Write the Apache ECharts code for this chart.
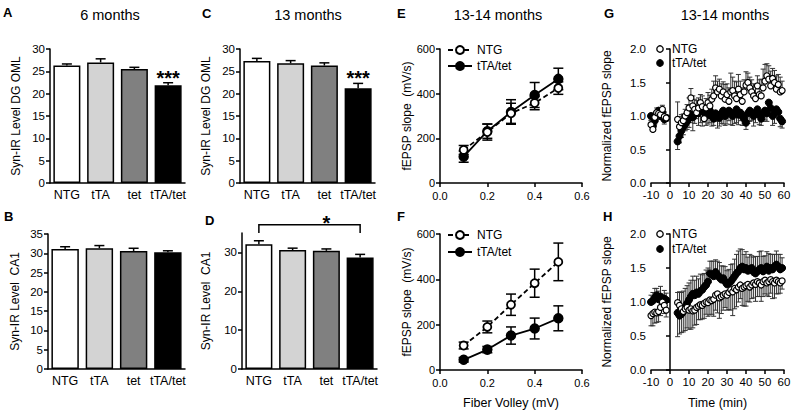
<!DOCTYPE html>
<html><head><meta charset="utf-8">
<script src="https://cdn.jsdelivr.net/npm/echarts@6/dist/echarts.min.js"></script>
<style>html,body{margin:0;padding:0;background:#fff}#c{width:800px;height:416px}</style>
</head><body><div id="c"></div>
<script>
// ---------- DATA ----------
const groups = ['NTG', 'tTA', 'tet', 'tTA/tet'];
const dg6Mean = [26.3, 27.0, 25.5, 21.9];
const dg6Sem = [0.35, 0.8, 0.4, 0.55];
const ca6Mean = [31.1, 31.3, 30.6, 30.25];
const ca6Sem = [0.6, 0.7, 0.7, 0.4];
const dg13Mean = [27.3, 26.8, 26.3, 21.2];
const dg13Sem = [0.6, 0.6, 0.6, 1.1];
const ca13Mean = [32.1, 30.6, 30.4, 28.7];
const ca13Sem = [0.9, 0.5, 0.5, 0.8];
const sigA = '***', sigC = '***', sigD = '*';
const seriesNames = ['NTG', 'tTA/tet'];

const fiberVolley = [0.1, 0.2, 0.3, 0.4, 0.5];
const ioE_NTG = [148, 228, 312, 358, 425];
const ioE_NTGErr = [20, 36, 45, 30, 28];
const ioE_TG = [118, 232, 318, 394, 466];
const ioE_TGErr = [25, 32, 55, 56, 48];
const ioF_NTG = [108, 190, 288, 383, 477];
const ioF_NTGErr = [15, 26, 47, 62, 83];
const ioF_TG = [45, 90, 152, 183, 228];
const ioF_TGErr = [10, 14, 38, 46, 55];

const timeMin = [-10,-9,-8,-7,-6,-5,-4,-3,-2,4,5,6,7,8,9,10,11,12,13,14,15,16,17,18,19,20,21,22,23,24,25,26,27,28,29,30,31,32,33,34,35,36,37,38,39,40,41,42,43,44,45,46,47,48,49,50,51,52,53,54,55,56,57,58,59];
const ltpG_NTG = [0.87,0.80,0.98,1.05,1.04,1.02,1.10,0.99,0.97, 0.95,0.84,0.90,0.93,1.00,1.05,1.12,1.27,1.15,1.10, 1.05,1.12,1.20,1.14,0.96,1.12,1.20,1.15,1.25,1.30, 1.42,1.36,1.40,1.30,1.36,1.25,1.32,1.22,1.36,1.38, 1.30,1.26,1.40,1.32,1.22,1.36,1.46,1.50,1.42,1.36, 1.30,1.26,1.45,1.32,1.30,1.42,1.52,1.60,1.55,1.45, 1.56,1.50,1.40,1.47,1.36,1.38];
const ltpG_NTGErr = [0.06,0.05,0.06,0.07,0.06,0.05,0.06,0.07,0.05, 0.26,0.15,0.12,0.10,0.10,0.12,0.15,0.14,0.15,0.15, 0.18,0.15,0.12,0.16,0.20,0.14,0.15,0.16,0.15,0.22, 0.18,0.16,0.15,0.18,0.15,0.22,0.16,0.20,0.28,0.20, 0.22,0.25,0.22,0.20,0.20,0.18,0.20,0.14,0.16,0.18, 0.18,0.20,0.15,0.22,0.25,0.28,0.25,0.18,0.20,0.22, 0.15,0.18,0.20,0.15,0.22,0.14];
const ltpG_TG = [1.00,0.85,0.93,1.04,1.08,1.00,1.05,0.95,0.97, 0.62,0.70,0.78,0.84,0.88,0.92,0.97,1.02,0.98,1.04, 1.08,1.04,1.12,1.10,1.06,1.00,1.04,1.08,1.00,0.96, 1.04,1.00,0.97,1.04,1.08,1.00,1.04,1.08,1.05,1.00, 1.04,1.10,1.02,1.05,1.00,0.96,0.90,1.04,1.08,1.05, 1.00,1.04,1.10,1.02,0.96,1.04,1.08,1.04,1.20,1.12, 1.00,1.04,1.10,1.06,0.96,0.92];
const ltpG_TGErr = [0.06,0.08,0.05,0.06,0.08,0.05,0.06,0.07,0.05, 0.12,0.10,0.10,0.12,0.10,0.12,0.14,0.12,0.20,0.15, 0.12,0.18,0.22,0.25,0.15,0.14,0.16,0.18,0.15,0.10, 0.12,0.18,0.12,0.15,0.20,0.14,0.16,0.15,0.18,0.14, 0.15,0.20,0.15,0.12,0.14,0.10,0.10,0.15,0.16,0.12, 0.15,0.14,0.12,0.15,0.10,0.12,0.14,0.12,0.10,0.12, 0.14,0.15,0.12,0.10,0.12,0.10];
const ltpH_NTG = [0.80,0.83,0.85,0.84,0.86,0.92,1.00,0.95,0.88, 0.99,0.95,0.90,0.86,0.90,0.92,0.88,0.90,0.87,0.88, 0.92,0.94,0.96,0.95,0.98,1.00,0.99,1.03,1.02,1.04, 1.10,1.12,1.06,1.08,1.10,1.12,1.10,1.14,1.18,1.15, 1.20,1.18,1.22,1.25,1.20,1.22,1.24,1.26,1.22,1.25, 1.28,1.26,1.30,1.28,1.25,1.30,1.32,1.28,1.30,1.33, 1.30,1.28,1.32,1.30,1.28,1.31];
const ltpH_NTGErr = [0.15,0.18,0.16,0.14,0.15,0.12,0.10,0.12,0.10, 0.50,0.42,0.35,0.30,0.32,0.30,0.28,0.30,0.25,0.22, 0.25,0.20,0.22,0.20,0.22,0.18,0.20,0.22,0.20,0.25, 0.22,0.28,0.30,0.25,0.22,0.20,0.22,0.25,0.30,0.35, 0.30,0.25,0.22,0.20,0.25,0.28,0.30,0.25,0.22,0.20, 0.22,0.25,0.22,0.20,0.24,0.22,0.20,0.18,0.22,0.20, 0.25,0.22,0.20,0.18,0.15,0.12];
const ltpH_TG = [1.00,1.02,1.06,1.10,1.04,1.08,1.00,1.05,1.03, 0.84,0.80,0.82,0.86,0.92,0.98,1.03,1.08,1.12,1.10, 1.14,1.12,1.16,1.18,1.22,1.25,1.30,1.42,1.40,1.38, 1.44,1.40,1.36,1.33,1.35,1.30,1.26,1.28,1.30,1.34, 1.38,1.42,1.45,1.50,1.52,1.48,1.50,1.46,1.48,1.50, 1.44,1.42,1.45,1.48,1.50,1.45,1.48,1.52,1.46,1.50, 1.48,1.52,1.55,1.52,1.48,1.50];
const ltpH_TGErr = [0.10,0.12,0.14,0.10,0.12,0.15,0.10,0.12,0.10, 0.30,0.35,0.32,0.30,0.28,0.26,0.25,0.24,0.26,0.22, 0.24,0.22,0.25,0.22,0.20,0.22,0.20,0.18,0.20,0.22, 0.18,0.20,0.22,0.20,0.18,0.22,0.20,0.20,0.25,0.22, 0.25,0.28,0.30,0.28,0.25,0.22,0.24,0.20,0.22,0.18, 0.22,0.25,0.22,0.26,0.25,0.22,0.20,0.22,0.25,0.20, 0.22,0.18,0.20,0.18,0.22,0.15];

// ---------- STYLE / BUILD ----------
const FF = '"Liberation Sans", Arial, Helvetica, sans-serif';
const barFills = ['#ffffff', '#d3d3d3', '#808080', '#000000'];
const zip2 = (a, b) => a.map((v, i) => [v, b[i]]);
const zip3 = (a, b, c) => a.map((v, i) => [v, b[i], c[i]]);

const axisLine = { lineStyle: { color: '#000', width: 1.5 } };
const axisTick = { show: true, length: 4, lineStyle: { color: '#000', width: 1.5 } };
const lbl = { color: '#000', fontSize: 11.5, fontFamily: FF, margin: 5 };
const nameStyle = { color: '#000', fontSize: 12, fontFamily: FF };

const grids = [
  { left: 50, top: 49, width: 135, height: 134 },   // A
  { left: 48, top: 234, width: 137, height: 135 },  // B
  { left: 240, top: 49, width: 135, height: 134 },  // C
  { left: 242, top: 233, width: 135, height: 136 }, // D
  { left: 440, top: 49, width: 142, height: 134 },  // E
  { left: 440, top: 234, width: 142, height: 136 }, // F
  { left: 651, top: 49, width: 133, height: 134 },  // G
  { left: 651, top: 234, width: 133, height: 136 }  // H
];

const xAxes = [], yAxes = [];
for (let g = 0; g < 4; g++) {
  xAxes.push({ type: 'category', gridIndex: g, data: groups, axisLine, axisTick: { show: false },
    axisLabel: Object.assign({}, lbl, { fontSize: 12.5, margin: 5, interval: 0 }), splitLine: { show: false } });
}
const barY = [
  { max: 30, interval: 5, name: 'Syn-IR Level DG OML', gap: 28 },
  { max: 35, interval: 5, name: 'Syn-IR Level  CA1', gap: 27 },
  { max: 30, interval: 5, name: 'Syn-IR Level DG OML', gap: 28 },
  { max: 35, interval: 10, name: 'Syn-IR Level  CA1', gap: 30, custom: [0, 10, 20, 30] }
];
barY.forEach((c, g) => {
  const ax = { type: 'value', gridIndex: g, min: 0, max: c.max, interval: c.interval,
    name: c.name, nameLocation: 'middle', nameGap: c.gap, nameTextStyle: nameStyle,
    axisLine: Object.assign({ show: true }, axisLine), axisTick: Object.assign({}, axisTick), axisLabel: Object.assign({}, lbl),
    splitLine: { show: false } };
  if (c.custom) { ax.axisTick.customValues = c.custom; ax.axisLabel.customValues = c.custom; }
  yAxes.push(ax);
});
[4, 5].forEach(g => {
  xAxes.push({ type: 'value', gridIndex: g, min: 0, max: 0.6, interval: 0.2, axisLine, axisTick,
    axisLabel: Object.assign({}, lbl, { fontSize: 11, margin: 7, formatter: v => v.toFixed(1) }), splitLine: { show: false },
    name: g === 5 ? 'Fiber Volley (mV)' : '', nameLocation: 'middle', nameGap: 26, nameTextStyle: Object.assign({}, nameStyle, { fontSize: 12.5 }) });
  yAxes.push({ type: 'value', gridIndex: g, min: 0, max: 600, interval: 200, axisLine: Object.assign({ show: true }, axisLine), axisTick,
    axisLabel: Object.assign({}, lbl, { fontSize: 11 }), splitLine: { show: false },
    name: 'fEPSP slope  (mV/s)', nameLocation: 'middle', nameGap: 25, nameTextStyle: nameStyle });
});
[6, 7].forEach(g => {
  xAxes.push({ type: 'value', gridIndex: g, min: -10, max: 60, interval: 10, axisLine, axisTick,
    axisLabel: Object.assign({}, lbl, { margin: 6 }), splitLine: { show: false },
    name: g === 7 ? 'Time (min)' : '', nameLocation: 'middle', nameGap: 26, nameTextStyle: Object.assign({}, nameStyle, { fontSize: 12.5 }) });
  yAxes.push({ type: 'value', gridIndex: g, min: 0, max: 2, interval: 0.5, axisLine: Object.assign({ show: true }, axisLine), axisTick,
    axisLabel: Object.assign({}, lbl, { formatter: v => v.toFixed(1) }), splitLine: { show: false },
    name: 'Normalized fEPSP slope', nameLocation: 'middle', nameGap: 38, nameTextStyle: nameStyle });
});

// renderers
function barErr(params, api) {
  const i = api.value(0), m = api.value(1), e = api.value(2);
  const p0 = api.coord([i, m]), p1 = api.coord([i, m + e]);
  const st = { stroke: '#000', lineWidth: 1.5 };
  return { type: 'group', children: [
    { type: 'line', shape: { x1: p0[0], y1: p0[1], x2: p1[0], y2: p1[1] }, style: st },
    { type: 'line', shape: { x1: p1[0] - 5, y1: p1[1], x2: p1[0] + 5, y2: p1[1] }, style: st }
  ] };
}
function symErr(params, api) {
  const x = api.value(0), y = api.value(1), e = api.value(2);
  const lo = api.coord([x, y - e]), hi = api.coord([x, y + e]);
  const st = { stroke: '#000', lineWidth: 1.5 };
  return { type: 'group', children: [
    { type: 'line', shape: { x1: lo[0], y1: lo[1], x2: hi[0], y2: hi[1] }, style: st },
    { type: 'line', shape: { x1: hi[0] - 5, y1: hi[1], x2: hi[0] + 5, y2: hi[1] }, style: st },
    { type: 'line', shape: { x1: lo[0] - 5, y1: lo[1], x2: lo[0] + 5, y2: lo[1] }, style: st }
  ] };
}
function oneSided(dir) {
  return function (params, api) {
    const x = api.value(0), y = api.value(1), e = api.value(2);
    const p0 = api.coord([x, y]), p1 = api.coord([x, y + dir * e]);
    const st = { stroke: '#333', lineWidth: 1 };
    return { type: 'group', children: [
      { type: 'line', shape: { x1: p0[0], y1: p0[1], x2: p1[0], y2: p1[1] }, style: st },
      { type: 'line', shape: { x1: p1[0] - 2.5, y1: p1[1], x2: p1[0] + 2.5, y2: p1[1] }, style: st }
    ] };
  };
}
function sigText(txt, size) {
  return function (params, api) {
    const p = api.coord([api.value(0), api.value(1)]);
    return { type: 'text', x: p[0], y: p[1], style: { text: txt, align: 'center', verticalAlign: 'middle',
      font: 'bold ' + size + 'px ' + FF, fill: '#000' } };
  };
}
function bracket(params, api) {
  const a = api.coord([api.value(0), api.value(2)]);
  const b = api.coord([api.value(1), api.value(3)]);
  const aLow = api.coord([api.value(0), api.value(4)]);
  return { type: 'polyline', shape: { points: [[a[0], aLow[1]], [a[0], a[1]], [b[0], a[1]], [b[0], aLow[1]]] },
    style: { stroke: '#000', lineWidth: 1.5, fill: null } };
}

const series = [];
const barSets = [[dg6Mean, dg6Sem], [ca6Mean, ca6Sem], [dg13Mean, dg13Sem], [ca13Mean, ca13Sem]];
barSets.forEach((s, g) => {
  series.push({ type: 'bar', name: 'bars' + g, xAxisIndex: g, yAxisIndex: g, barWidth: '80%', z: 2,
    data: s[0].map((v, i) => ({ value: v, itemStyle: { color: barFills[i], borderColor: '#000', borderWidth: 1.5 } })) });
  series.push({ type: 'custom', name: 'barErr' + g, xAxisIndex: g, yAxisIndex: g, z: 3, renderItem: barErr,
    data: s[0].map((v, i) => [i, v, s[1][i]]) });
});
series.push({ type: 'custom', name: 'sigA', xAxisIndex: 0, yAxisIndex: 0, z: 4, renderItem: sigText(sigA, 20), data: [[3, 23.6]] });
series.push({ type: 'custom', name: 'sigC', xAxisIndex: 2, yAxisIndex: 2, z: 4, renderItem: sigText(sigC, 20), data: [[3, 23.6]] });
series.push({ type: 'custom', name: 'brD', xAxisIndex: 3, yAxisIndex: 3, z: 4, clip: false, renderItem: bracket, data: [[0, 3, 37.1, 37.1, 35.0]] });
series.push({ type: 'custom', name: 'sigD', xAxisIndex: 3, yAxisIndex: 3, z: 4, clip: false, renderItem: sigText(sigD, 20), data: [[1.5, 37.6]] });

// E / F
const ioSets = [
  { g: 4, n: ioE_NTG, ne: ioE_NTGErr, t: ioE_TG, te: ioE_TGErr, sfx: '' },
  { g: 5, n: ioF_NTG, ne: ioF_NTGErr, t: ioF_TG, te: ioF_TGErr, sfx: ' ' }
];
ioSets.forEach(s => {
  series.push({ type: 'custom', name: 'errN' + s.g, xAxisIndex: s.g, yAxisIndex: s.g, z: 2, renderItem: symErr, data: zip3(fiberVolley, s.n, s.ne) });
  series.push({ type: 'custom', name: 'errT' + s.g, xAxisIndex: s.g, yAxisIndex: s.g, z: 2, renderItem: symErr, data: zip3(fiberVolley, s.t, s.te) });
  series.push({ type: 'line', name: 'tTA/tet' + s.sfx, xAxisIndex: s.g, yAxisIndex: s.g, z: 3, data: zip2(fiberVolley, s.t),
    symbol: 'circle', symbolSize: 9, showAllSymbol: true,
    lineStyle: { color: '#000', width: 1.8, type: 'solid' }, itemStyle: { color: '#000', borderColor: '#000', borderWidth: 1.5 } });
  series.push({ type: 'line', name: 'NTG' + s.sfx, xAxisIndex: s.g, yAxisIndex: s.g, z: 4, data: zip2(fiberVolley, s.n),
    symbol: 'circle', symbolSize: 8, showAllSymbol: true,
    lineStyle: { color: '#000', width: 1.8, type: [5, 3] }, itemStyle: { color: '#fff', borderColor: '#000', borderWidth: 1.8 } });
});

// G / H
const ltpSets = [
  { g: 6, n: ltpG_NTG, ne: ltpG_NTGErr, nd: 1, t: ltpG_TG, te: ltpG_TGErr, td: -1 },
  { g: 7, n: ltpH_NTG, ne: ltpH_NTGErr, nd: -1, t: ltpH_TG, te: ltpH_TGErr, td: 1 }
];
ltpSets.forEach(s => {
  series.push({ type: 'custom', name: 'lerrN' + s.g, xAxisIndex: s.g, yAxisIndex: s.g, z: 1, renderItem: oneSided(s.nd), data: zip3(timeMin, s.n, s.ne) });
  series.push({ type: 'custom', name: 'lerrT' + s.g, xAxisIndex: s.g, yAxisIndex: s.g, z: 1, renderItem: oneSided(s.td), data: zip3(timeMin, s.t, s.te) });
  series.push({ type: 'scatter', name: 'ltpTG' + s.g, xAxisIndex: s.g, yAxisIndex: s.g, z: 2, data: zip2(timeMin, s.t),
    symbol: 'circle', symbolSize: 7, itemStyle: { color: '#000', borderColor: '#000', borderWidth: 1, opacity: 1 } });
  series.push({ type: 'scatter', name: 'ltpNTG' + s.g, xAxisIndex: s.g, yAxisIndex: s.g, z: 3, data: zip2(timeMin, s.n),
    symbol: 'circle', symbolSize: 6, itemStyle: { color: '#fff', borderColor: '#000', borderWidth: 1.2, opacity: 1 } });
});

const legendText = { color: '#000', fontSize: 12, fontFamily: FF };
const legends = [
  { data: ['NTG', 'tTA/tet'], left: 447, top: 44, itemWidth: 24, itemHeight: 10, itemGap: 4, textStyle: legendText },
  { data: ['NTG ', 'tTA/tet '], left: 447, top: 229, itemWidth: 24, itemHeight: 10, itemGap: 5, textStyle: legendText }
].map(l => Object.assign(l, { orient: 'vertical', selectedMode: false, formatter: n => n.trim(), padding: 0 }));

function txt(s, x, y, font) {
  return { type: 'text', x, y, style: { text: s, align: 'left', verticalAlign: 'middle', font, fill: '#000' } };
}
function ctxt(s, x, y, font) {
  return { type: 'text', x, y, style: { text: s, align: 'center', verticalAlign: 'middle', font, fill: '#000' } };
}
function legendDot(cx, cy, filled) {
  return { type: 'circle', shape: { cx, cy, r: 3.2 }, style: { fill: filled ? '#000' : '#fff', stroke: '#000', lineWidth: 1.3 } };
}
const LF = 'bold 13px ' + FF, TF = '14.5px ' + FF, GF = '12px ' + FF;
const graphic = [
  txt('A', 3, 12, LF), txt('B', 4, 216, LF), txt('C', 202, 13, LF), txt('D', 205, 220, LF),
  txt('E', 397, 13, LF), txt('F', 397, 216, LF), txt('G', 604, 13, LF), txt('H', 603, 216, LF),
  ctxt('6 months', 110, 15, TF), ctxt('13 months', 308, 15, TF),
  ctxt('13-14 months', 498, 15, TF), ctxt('13-14 months', 725, 15, TF),
  // G / H legends
  legendDot(660, 49, false), txt(seriesNames[0], 672, 49, GF),
  legendDot(660, 63, true), txt(seriesNames[1], 672, 63, GF),
  legendDot(660, 234, false), txt(seriesNames[0], 672, 234, GF),
  legendDot(660, 249, true), txt(seriesNames[1], 672, 249, GF)
];

const chart = echarts.init(document.getElementById('c'), null, { renderer: 'svg' });
chart.setOption({
  animation: false,
  backgroundColor: '#fff',
  textStyle: { fontFamily: FF },
  grid: grids,
  xAxis: xAxes,
  yAxis: yAxes,
  legend: legends,
  graphic,
  series
});
</script></body></html>
